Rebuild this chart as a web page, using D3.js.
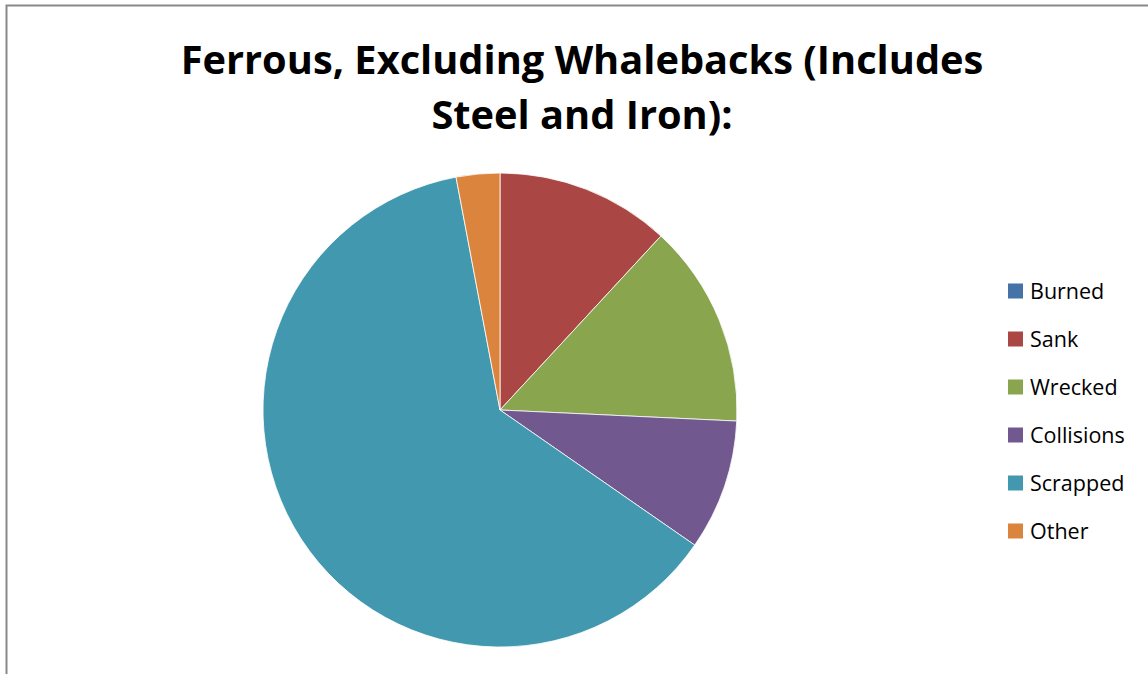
<!DOCTYPE html>
<html><head><meta charset="utf-8">
<script src="https://cdn.jsdelivr.net/npm/d3@7"></script>
<style>body{margin:0;background:#fff}svg{display:block}</style>
</head><body>
<svg id="c" width="1148" height="674"></svg>
<script>
const categories = ["Burned","Sank","Wrecked","Collisions","Scrapped","Other"];
const values = [0,12,14,9,63,3];
const colors = ["#4572A7","#AA4643","#89A54E","#71588F","#4198AF","#DB843D"];
const titleLines = ["Ferrous, Excluding Whalebacks (Includes","Steel and Iron):"];

const svg = d3.select("#c");
svg.append("path").attr("d","M6.5,674 V5.5 H1148").attr("fill","none").attr("stroke","#898989").attr("stroke-width",2);

const title = svg.append("text").attr("text-anchor","middle").attr("font-family","Open Sans, sans-serif")
  .attr("font-weight","bold").attr("font-size",34).attr("fill","#000");
titleLines.forEach((t,i)=>title.append("tspan").attr("x",582).attr("y",74+i*55).text(t));
const w0 = title.select("tspan").node().getComputedTextLength();
const fs = 34*803/w0;
title.attr("font-size",fs);

const cx=500, cy=410, r=237;
const pie = d3.pie().sort(null).value(d=>d)(values);
const arc = d3.arc().innerRadius(0).outerRadius(r);
svg.append("g").attr("transform",`translate(${cx},${cy})`)
  .selectAll("path").data(pie).join("path")
  .attr("d",arc).attr("fill",(d,i)=>colors[i])
  .attr("stroke","#fff").attr("stroke-width",d=>d.value>0?0.8:0);

const ly = d3.scalePoint().domain(categories).range([291,531]);
const lg = svg.append("g");
categories.forEach((c,i)=>{
  lg.append("rect").attr("x",1008).attr("y",ly(c)-7.5).attr("width",15).attr("height",15).attr("fill",colors[i]);
  lg.append("text").attr("x",1030).attr("y",ly(c)+8).attr("font-family","Open Sans, sans-serif")
    .attr("font-size",21.5).attr("fill","#000").text(c);
});
</script>
</body></html>
